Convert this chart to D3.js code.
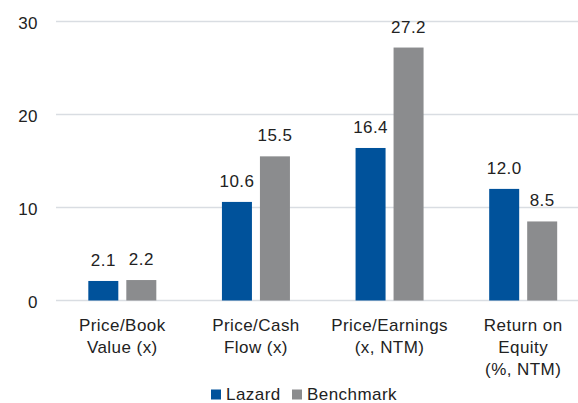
<!DOCTYPE html>
<html>
<head>
<meta charset="utf-8">
<script src="https://cdn.jsdelivr.net/npm/d3@7"></script>
<style>
  body { margin: 0; background: #fff; }
  text { font-family: "Liberation Sans", Arial, sans-serif; fill: #222; font-size: 17px; letter-spacing: 0.45px; }
</style>
</head>
<body>
<div id="chart"></div>
<script>
var categories = [
    ["Price/Book", "Value (x)"],
    ["Price/Cash", "Flow (x)"],
    ["Price/Earnings", "(x, NTM)"],
    ["Return on", "Equity", "(%, NTM)"]
];
var seriesNames = ["Lazard", "Benchmark"];
var lazard = [2.1, 10.6, 16.4, 12.0];
var benchmark = [2.2, 15.5, 27.2, 8.5];
var yTicks = [0, 10, 20, 30];
var colors = ["#00529b", "#8b8c8e"];

var fullWidth = 578;
var fullHeight = 403;

var svg = d3.select("#chart")
    .append("svg")
    .attr("width", fullWidth)
    .attr("height", fullHeight);

// x band per category
var x = d3.scaleBand()
    .domain(d3.range(categories.length))
    .range([55.5, 590])
    .padding(0);

var y = d3.scaleLinear()
    .domain([0, 30])
    .range([300.5, 21.5]);

// gridlines
svg.append("g")
    .selectAll("line")
    .data(yTicks)
    .enter()
    .append("line")
    .attr("x1", 56)
    .attr("x2", fullWidth)
    .attr("y1", d => y(d))
    .attr("y2", d => y(d))
    .style("stroke", "#d9dde2")
    .style("stroke-width", 1.5);

// y axis labels
var yAxis = svg.append("g")
    .attr("transform", "translate(46,0)")
    .call(d3.axisLeft(y).tickValues(yTicks).tickSize(0).tickPadding(8));
yAxis.select(".domain").remove();
yAxis.attr("font-size", null).attr("font-family", null);
yAxis.selectAll("text")
    .attr("fill", "#222")
    .attr("dy", "0.4em");

var rows = categories.map((c, i) => ({ i: i, values: [lazard[i], benchmark[i]] }));

var barW = 30, gap = 8;
var groups = svg.selectAll(".grp")
    .data(rows)
    .enter()
    .append("g")
    .attr("class", "grp")
    .attr("transform", d => "translate(" + (x(d.i) + x.bandwidth() / 2) + ",0)");

groups.selectAll("rect")
    .data(d => d.values)
    .enter()
    .append("rect")
    .attr("x", (d, j) => j === 0 ? -barW - gap / 2 : gap / 2)
    .attr("width", barW)
    .attr("y", d => y(d))
    .attr("height", d => y(0) - y(d))
    .style("fill", (d, j) => colors[j]);

groups.selectAll(".val")
    .data(d => d.values)
    .enter()
    .append("text")
    .attr("class", "val")
    .attr("x", (d, j) => j === 0 ? -barW / 2 - gap / 2 : barW / 2 + gap / 2)
    .attr("y", d => y(d) - 15)
    .attr("text-anchor", "middle")
    .text(d => d.toFixed(1));

// category labels
groups.append("text")
    .attr("text-anchor", "middle")
    .selectAll("tspan")
    .data(d => categories[d.i])
    .enter()
    .append("tspan")
    .attr("x", 0)
    .attr("y", (d, k) => 331 + k * 22)
    .text(d => d);

// legend
var legendX = [211, 292];
var legend = svg.selectAll(".leg")
    .data(seriesNames)
    .enter()
    .append("g")
    .attr("class", "leg")
    .attr("transform", (d, i) => "translate(" + legendX[i] + ",389.5)");
legend.append("rect")
    .attr("width", 10)
    .attr("height", 10)
    .style("fill", (d, i) => colors[i]);
legend.append("text")
    .attr("x", 15)
    .attr("y", 10.5)
    .text(d => d);
</script>
</body>
</html>
